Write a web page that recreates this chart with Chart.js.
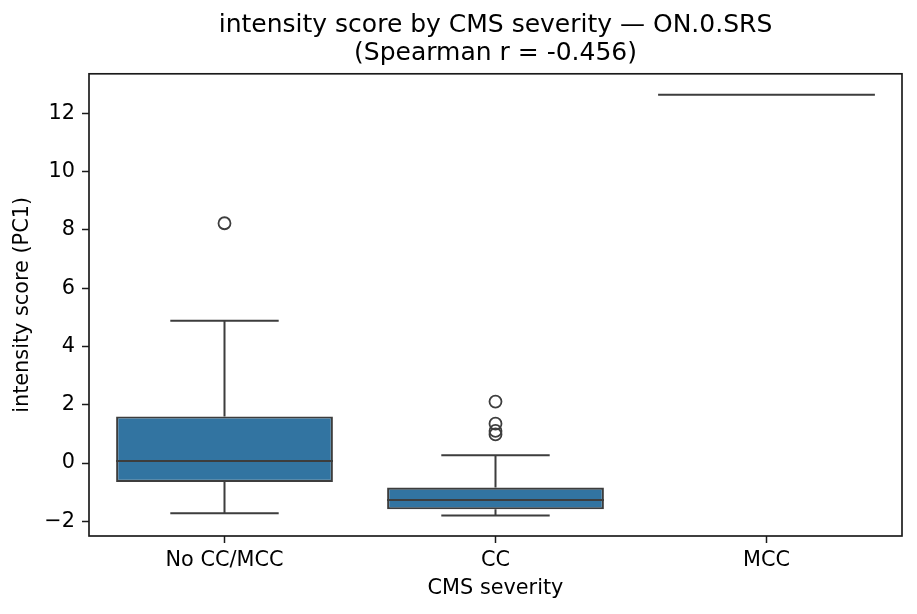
<!DOCTYPE html>
<html>
<head>
<meta charset="utf-8">
<script src="https://cdn.jsdelivr.net/npm/chart.js@4"></script>
<style>
  body { margin: 0; background: #fff; }
</style>
</head>
<body>
<canvas id="chart" width="917" height="614"></canvas>
<script>
// values
let categories = ["No CC/MCC", "CC", "MCC"];
let q1 = [-0.65, -1.59, 12.64];
let q3 = [1.60, -0.84, 12.64];
let medians = [0.07, -1.27, 12.64];
let whiskerLow = [-1.72, -1.80, 12.64];
let whiskerHigh = [4.88, 0.27, 12.64];
let outliers = [[8.23], [2.11, 1.35, 1.10, 0.98], []];
let yTicks = [-2, 0, 2, 4, 6, 8, 10, 12];

let boxFill = "#3274a1";
let lineColor = "#3d3d3d";
let font = "DejaVu Sans";

let boxData = categories.map((c, i) => q1[i] === q3[i] ? null : [q1[i], q3[i]]);

let outlierData = [];
for (var i = 0; i < categories.length; i++) {
    for (var j = 0; j < outliers[i].length; j++) {
        outlierData.push({x: categories[i], y: outliers[i][j]});
    }
}

// whiskers, caps and medians, placed through the chart scales
let boxParts = {
    id: "boxParts",
    afterDatasetsDraw(chart) {
        let ctx = chart.ctx;
        let xs = chart.scales.x;
        let ys = chart.scales.y;
        let band = xs.getPixelForValue(1) - xs.getPixelForValue(0);
        ctx.save();
        ctx.strokeStyle = lineColor;
        ctx.lineWidth = 2;
        ctx.lineCap = "butt";
        for (var i = 0; i < categories.length; i++) {
            let cx = xs.getPixelForValue(i);
            let half = band * 0.4;
            let cap = band * 0.2;
            ctx.beginPath();
            // upper whisker
            ctx.moveTo(cx, ys.getPixelForValue(q3[i]));
            ctx.lineTo(cx, ys.getPixelForValue(whiskerHigh[i]));
            ctx.moveTo(cx - cap, ys.getPixelForValue(whiskerHigh[i]));
            ctx.lineTo(cx + cap, ys.getPixelForValue(whiskerHigh[i]));
            // lower whisker
            ctx.moveTo(cx, ys.getPixelForValue(q1[i]));
            ctx.lineTo(cx, ys.getPixelForValue(whiskerLow[i]));
            ctx.moveTo(cx - cap, ys.getPixelForValue(whiskerLow[i]));
            ctx.lineTo(cx + cap, ys.getPixelForValue(whiskerLow[i]));
            // median
            ctx.moveTo(cx - half, ys.getPixelForValue(medians[i]));
            ctx.lineTo(cx + half, ys.getPixelForValue(medians[i]));
            ctx.stroke();
        }
        ctx.restore();
    },
    afterDraw(chart) {
        let a = chart.chartArea;
        let ctx = chart.ctx;
        ctx.save();
        ctx.strokeStyle = "#1a1a1a";
        ctx.lineWidth = 1.67;
        ctx.strokeRect(a.left, a.top, a.right - a.left, a.bottom - a.top);
        ctx.restore();
    }
};

var ctx = document.getElementById("chart");
var chart = new Chart(ctx, {
    type: "bar",
    data: {
        labels: categories,
        datasets: [
            {
                label: "box",
                data: boxData,
                backgroundColor: boxFill,
                borderColor: lineColor,
                borderWidth: 2.2,
                borderSkipped: false,
                barPercentage: 0.8,
                categoryPercentage: 1.0
            },
            {
                type: "scatter",
                label: "outliers",
                data: outlierData,
                pointStyle: "circle",
                pointRadius: 6,
                borderWidth: 1.8,
                borderColor: lineColor,
                backgroundColor: "rgba(0,0,0,0)"
            }
        ]
    },
    options: {
        responsive: false,
        animation: false,
        layout: { padding: { top: 0, right: 15, bottom: 0, left: 0 } },
        plugins: {
            legend: { display: false },
            tooltip: { enabled: false },
            title: {
                display: true,
                fullSize: false,
                text: ["intensity score by CMS severity — ON.0.SRS", "(Spearman r = -0.456)"],
                color: "#000",
                font: { family: font, size: 25, weight: "normal", lineHeight: 1.136 },
                padding: { top: 11, bottom: 6 }
            }
        },
        scales: {
            x: {
                offset: true,
                grid: { drawOnChartArea: false, offset: false, tickLength: 7, tickWidth: 1.5, tickColor: "#1a1a1a" },
                border: { display: false },
                ticks: { color: "#000", padding: 5, font: { family: font, size: 20.8 } },
                title: {
                    display: true,
                    text: "CMS severity",
                    color: "#000",
                    font: { family: font, size: 20.8 },
                    padding: { top: 0, bottom: 13 }
                },
                afterFit(scale) { scale.height = 78; }
            },
            y: {
                min: -2.505,
                max: 13.36,
                grid: { drawOnChartArea: false, tickLength: 7, tickWidth: 1.5, tickColor: "#1a1a1a" },
                border: { display: false },
                afterBuildTicks(scale) { scale.ticks = yTicks.map(v => ({value: v})); },
                ticks: {
                    color: "#000",
                    padding: 7,
                    font: { family: font, size: 20.8 },
                    callback: v => String(v).replace("-", "\u2212")
                },
                title: {
                    display: true,
                    text: "intensity score (PC1)",
                    color: "#000",
                    font: { family: font, size: 20.8 },
                    padding: { top: 10, bottom: 0 }
                },
                afterFit(scale) { scale.width = 89; }
            }
        }
    },
    plugins: [boxParts]
});
</script>
</body>
</html>
